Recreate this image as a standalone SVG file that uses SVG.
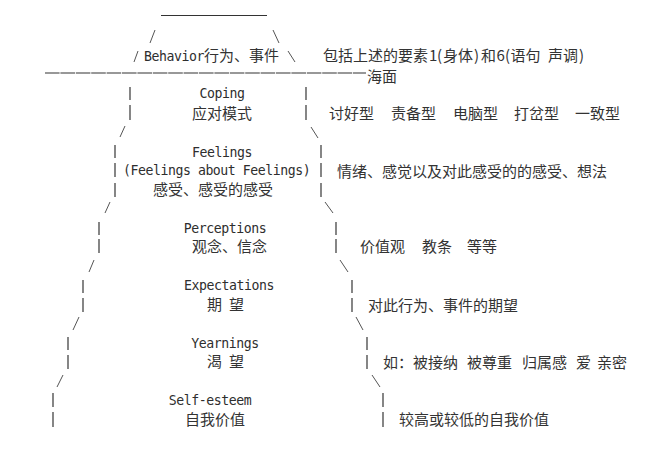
<svg xmlns="http://www.w3.org/2000/svg" width="670" height="452" viewBox="0 0 670 452">
<style>
.m{font-family:"DejaVu Sans Mono","Liberation Mono",monospace;font-size:13.2px;letter-spacing:-0.45px;fill:#2e2e2e}
.c{font-family:"Noto Sans CJK SC","Noto Sans",sans-serif;font-size:15px;letter-spacing:0;fill:#333}
.bar{stroke:#444;stroke-width:1.3;fill:none}
.sl{stroke:#555;stroke-width:1;fill:none}
.hl{stroke:#333;stroke-width:1.1;fill:none}
</style>
<rect width="670" height="452" fill="#fff"/>

<g id="connectors">
  <line class="sl" x1="150" y1="43" x2="155" y2="30"/>
  <line class="sl" x1="273" y1="30" x2="279" y2="43"/>
  <line class="sl" x1="134" y1="62" x2="138" y2="51"/>
  <line class="sl" x1="288" y1="51" x2="295" y2="62"/>
  <line class="sl" x1="120" y1="137" x2="125" y2="126"/>
  <line class="sl" x1="311" y1="127" x2="318" y2="138"/>
  <line class="sl" x1="105" y1="213" x2="110" y2="202"/>
  <line class="sl" x1="325" y1="202" x2="333" y2="213"/>
  <line class="sl" x1="89" y1="272" x2="94" y2="260"/>
  <line class="sl" x1="340" y1="260" x2="348" y2="272"/>
  <line class="sl" x1="73" y1="330" x2="79" y2="317"/>
  <line class="sl" x1="356" y1="317" x2="363" y2="330"/>
  <line class="sl" x1="57" y1="387" x2="63" y2="375"/>
  <line class="sl" x1="372" y1="375" x2="380" y2="387"/>
</g>

<g id="behavior">
  <line class="hl" x1="161" y1="15.5" x2="267" y2="15.5"/>
  <text class="m" x="144" y="61">Behavior<tspan class="c">行为、事件</tspan></text>
  <text class="c" y="60.5"><tspan x="323">包括上述的要素</tspan><tspan x="429">1</tspan><tspan x="437">(</tspan><tspan x="443">身体</tspan><tspan x="474">)</tspan><tspan x="481">和</tspan><tspan x="496.5">6</tspan><tspan x="505">(</tspan><tspan x="510.5">语句</tspan><tspan x="548">声调</tspan><tspan x="579">)</tspan></text>
</g>

<g id="sea-level">
  <line class="hl" x1="45" y1="73" x2="366" y2="73" stroke-dasharray="14.6 0.8"/>
  <text class="c" x="367" y="82">海面</text>
</g>

<g id="coping">
  <line class="bar" x1="130" y1="87" x2="130" y2="100"/>
  <line class="bar" x1="130" y1="105" x2="130" y2="120"/>
  <line class="bar" x1="306" y1="87" x2="306" y2="100"/>
  <line class="bar" x1="306" y1="105" x2="306" y2="120"/>
  <text class="m" x="222" y="98" text-anchor="middle">Coping</text>
  <text class="c" x="192" y="119">应对模式</text>
  <text class="c" y="119"><tspan x="329">讨好型</tspan><tspan x="391">责备型</tspan><tspan x="453">电脑型</tspan><tspan x="514">打岔型</tspan><tspan x="575">一致型</tspan></text>
</g>

<g id="feelings">
  <line class="bar" x1="115" y1="145" x2="115" y2="158"/>
  <line class="bar" x1="115" y1="163" x2="115" y2="177"/>
  <line class="bar" x1="115" y1="183" x2="115" y2="197"/>
  <line class="bar" x1="321" y1="145" x2="321" y2="158"/>
  <line class="bar" x1="321" y1="163" x2="321" y2="177"/>
  <line class="bar" x1="321" y1="183" x2="321" y2="197"/>
  <text class="m" x="222" y="157" text-anchor="middle">Feelings</text>
  <text class="m" x="123" y="175">(Feelings about Feelings)</text>
  <text class="c" x="153" y="195">感受、感受的感受</text>
  <text class="c" x="337" y="177">情绪、感觉以及对此感受的的感受、想法</text>
</g>

<g id="perceptions">
  <line class="bar" x1="99" y1="222" x2="99" y2="235"/>
  <line class="bar" x1="99" y1="239" x2="99" y2="253"/>
  <line class="bar" x1="336" y1="222" x2="336" y2="235"/>
  <line class="bar" x1="336" y1="239" x2="336" y2="253"/>
  <text class="m" x="225" y="233" text-anchor="middle">Perceptions</text>
  <text class="c" x="192" y="252">观念、信念</text>
  <text class="c" y="252"><tspan x="360">价值观</tspan><tspan x="422">教条</tspan><tspan x="467">等等</tspan></text>
</g>

<g id="expectations">
  <line class="bar" x1="83" y1="280" x2="83" y2="293"/>
  <line class="bar" x1="83" y1="298" x2="83" y2="312"/>
  <line class="bar" x1="352" y1="280" x2="352" y2="293"/>
  <line class="bar" x1="352" y1="298" x2="352" y2="312"/>
  <text class="m" x="229" y="290" text-anchor="middle">Expectations</text>
  <text class="c" y="310"><tspan x="207">期</tspan><tspan x="229">望</tspan></text>
  <text class="c" x="368" y="311">对此行为、事件的期望</text>
</g>

<g id="yearnings">
  <line class="bar" x1="68" y1="337" x2="68" y2="350"/>
  <line class="bar" x1="68" y1="355" x2="68" y2="369"/>
  <line class="bar" x1="367" y1="337" x2="367" y2="350"/>
  <line class="bar" x1="367" y1="355" x2="367" y2="369"/>
  <text class="m" x="225" y="348" text-anchor="middle">Yearnings</text>
  <text class="c" y="367"><tspan x="207">渴</tspan><tspan x="229">望</tspan></text>
  <text class="c" y="368"><tspan x="383">如：</tspan><tspan x="413">被接纳</tspan><tspan x="467">被尊重</tspan><tspan x="522">归属感</tspan><tspan x="576">爱</tspan><tspan x="597">亲密</tspan></text>
</g>

<g id="self-esteem">
  <line class="bar" x1="53" y1="393" x2="53" y2="407"/>
  <line class="bar" x1="53" y1="412" x2="53" y2="427"/>
  <line class="bar" x1="383" y1="393" x2="383" y2="407"/>
  <line class="bar" x1="383" y1="412" x2="383" y2="427"/>
  <text class="m" x="210" y="405" text-anchor="middle">Self-esteem</text>
  <text class="c" x="185" y="425">自我价值</text>
  <text class="c" x="399" y="425">较高或较低的自我价值</text>
</g>
</svg>
